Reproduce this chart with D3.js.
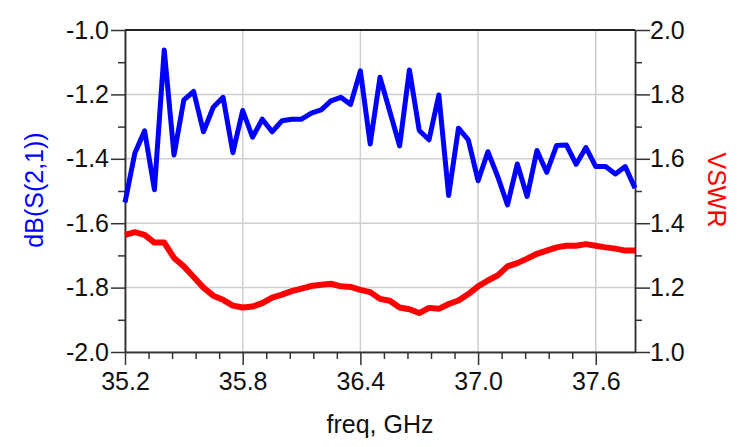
<!DOCTYPE html>
<html>
<head>
<meta charset="utf-8">
<script src="https://cdn.jsdelivr.net/npm/d3@7"></script>
<style>
    body { margin: 0; background: #fff; }
    svg text { font-family: "Liberation Sans", Arial, sans-serif; }
</style>
</head>
<body>
<div id="chart"></div>
<script>
// frequency sweep, 35.2 .. 37.8 GHz in 0.05 steps
const freq = d3.range(53).map(i => +(35.2 + i * 0.05).toFixed(2));

const s21 = [
    -1.536, -1.383, -1.313, -1.496, -1.062, -1.388, -1.217, -1.191, -1.316, -1.240,
    -1.209, -1.381, -1.250, -1.333, -1.277, -1.316, -1.282, -1.277, -1.277, -1.258,
    -1.248, -1.220, -1.209, -1.231, -1.127, -1.354, -1.147, -1.253, -1.360, -1.124,
    -1.312, -1.341, -1.202, -1.514, -1.305, -1.341, -1.468, -1.378, -1.455, -1.543,
    -1.416, -1.517, -1.374, -1.442, -1.359, -1.357, -1.417, -1.365, -1.424, -1.424,
    -1.447, -1.424, -1.491
];

const vswr = [
    1.364, 1.372, 1.364, 1.340, 1.340, 1.292, 1.266, 1.233, 1.200, 1.175,
    1.162, 1.144, 1.138, 1.141, 1.152, 1.169, 1.178, 1.189, 1.197, 1.205,
    1.209, 1.212, 1.204, 1.202, 1.193, 1.186, 1.165, 1.159, 1.138, 1.133,
    1.121, 1.137, 1.134, 1.149, 1.160, 1.180, 1.204, 1.222, 1.238, 1.266,
    1.276, 1.290, 1.305, 1.315, 1.325, 1.330, 1.330, 1.335, 1.330, 1.325,
    1.321, 1.315, 1.315
];

const xTicks = [35.2, 35.8, 36.4, 37.0, 37.6];
const xMinor = d3.range(19).map(i => +(35.32 + i * 0.12).toFixed(2)).filter(v => !xTicks.includes(v));
const leftTicks = [-2.0, -1.8, -1.6, -1.4, -1.2, -1.0];
const leftMinor = [-1.9, -1.7, -1.5, -1.3, -1.1];
const rightTicks = [1.0, 1.2, 1.4, 1.6, 1.8, 2.0];
const rightMinor = [1.1, 1.3, 1.5, 1.7, 1.9];

const W = 748, H = 447;
const margin = { top: 30, right: 113, bottom: 95, left: 125 };
const iw = W - margin.left - margin.right;
const ih = H - margin.top - margin.bottom;

const svg = d3.select('#chart')
    .append('svg')
    .attr('width', W)
    .attr('height', H);

const g = svg.append('g').attr('transform', `translate(${margin.left},${margin.top})`);

const x = d3.scaleLinear().domain([35.2, 37.8]).range([0, iw]);
const yL = d3.scaleLinear().domain([-2.0, -1.0]).range([ih, 0]);
const yR = d3.scaleLinear().domain([1.0, 2.0]).range([ih, 0]);

const fmt = d => d.toFixed(1);
const axisColor = '#333';

// grid
g.append('g').selectAll('line')
    .data(xTicks)
    .join('line')
    .attr('x1', d => x(d)).attr('x2', d => x(d))
    .attr('y1', 0).attr('y2', ih)
    .attr('stroke', '#cfcfcf').attr('stroke-width', 1.5);

g.append('g').selectAll('line')
    .data(leftTicks)
    .join('line')
    .attr('x1', 0).attr('x2', iw)
    .attr('y1', d => yL(d)).attr('y2', d => yL(d))
    .attr('stroke', '#cfcfcf').attr('stroke-width', 1.5);

function styleAxis(sel) {
    sel.selectAll('path, line').attr('stroke', axisColor).attr('stroke-width', 1.5);
    sel.selectAll('text')
        .attr('fill', '#111')
        .style('font-size', '25px');
}

// minor ticks first, then major axes on top
g.append('g')
    .attr('transform', `translate(0,${ih})`)
    .call(d3.axisBottom(x).tickValues(xMinor).tickSize(7).tickSizeOuter(0).tickFormat(''))
    .call(styleAxis);
g.append('g')
    .call(d3.axisLeft(yL).tickValues(leftMinor).tickSize(7).tickSizeOuter(0).tickFormat(''))
    .call(styleAxis);
g.append('g')
    .attr('transform', `translate(${iw},0)`)
    .call(d3.axisRight(yR).tickValues(rightMinor).tickSize(7).tickSizeOuter(0).tickFormat(''))
    .call(styleAxis);

g.append('g')
    .attr('transform', `translate(0,${ih})`)
    .call(d3.axisBottom(x).tickValues(xTicks).tickSize(13).tickPadding(7).tickSizeOuter(0).tickFormat(fmt))
    .call(styleAxis);
g.append('g')
    .call(d3.axisLeft(yL).tickValues(leftTicks).tickSize(14).tickPadding(2).tickSizeOuter(0).tickFormat(fmt))
    .call(styleAxis);
g.append('g')
    .attr('transform', `translate(${iw},0)`)
    .call(d3.axisRight(yR).tickValues(rightTicks).tickSize(15).tickPadding(0).tickSizeOuter(0).tickFormat(fmt))
    .call(styleAxis);

// top frame line
g.append('line')
    .attr('x1', 0).attr('x2', iw)
    .attr('y1', 0).attr('y2', 0)
    .attr('stroke', '#222').attr('stroke-width', 2);

// series
g.append('path')
    .datum(vswr)
    .attr('fill', 'none')
    .attr('stroke', '#ff0000')
    .attr('stroke-width', 6)
    .attr('stroke-linejoin', 'round')
    .attr('d', d3.line().x((d, i) => x(freq[i])).y(d => yR(d)));

g.append('path')
    .datum(s21)
    .attr('fill', 'none')
    .attr('stroke', '#0000ff')
    .attr('stroke-width', 5)
    .attr('stroke-linejoin', 'round')
    .attr('d', d3.line().x((d, i) => x(freq[i])).y(d => yL(d)));

// axis titles
svg.append('text')
    .attr('transform', 'translate(43,190) rotate(-90)')
    .attr('text-anchor', 'middle')
    .attr('fill', '#0000ff')
    .style('font-size', '25px')
    .text('dB(S(2,1))');

svg.append('text')
    .attr('transform', 'translate(708,190) rotate(90)')
    .attr('text-anchor', 'middle')
    .attr('fill', '#ff0000')
    .style('font-size', '25px')
    .text('VSWR');

svg.append('text')
    .attr('x', margin.left + iw / 2)
    .attr('y', 433)
    .attr('text-anchor', 'middle')
    .attr('fill', '#111')
    .style('font-size', '25px')
    .text('freq, GHz');
</script>
</body>
</html>
